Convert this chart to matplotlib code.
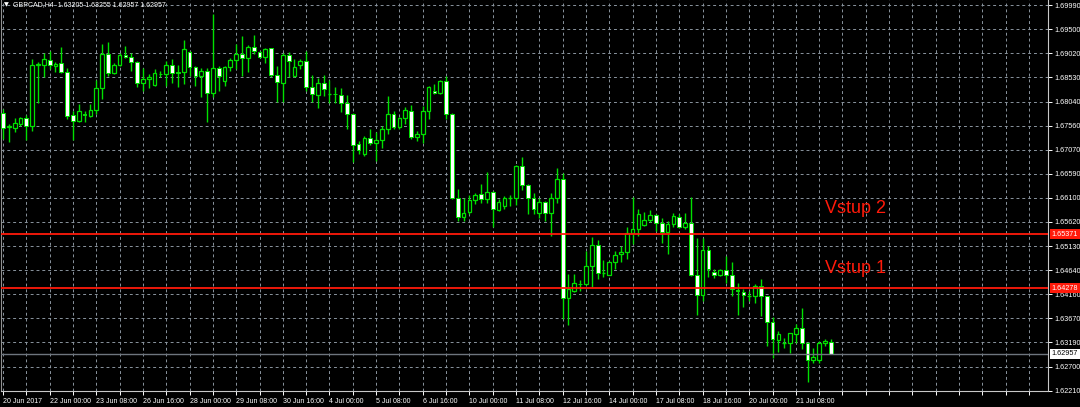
import numpy as np
import matplotlib
matplotlib.use("Agg")
import matplotlib.pyplot as plt
import matplotlib.transforms as mtransforms

plt.rcParams['font.family'] = ['Liberation Sans', 'DejaVu Sans']

# GBPCAD H4 bars (open, high, low, close)
opens = [1.6782, 1.6753, 1.6752, 1.6760, 1.6771, 1.6755, 1.6879, 1.6879, 1.6888, 1.6877,
         1.6883, 1.6863, 1.6777, 1.6765, 1.6780, 1.6776, 1.6787, 1.6832, 1.6901, 1.6861,
         1.6879, 1.6898, 1.6895, 1.6885, 1.6841, 1.6849, 1.6838, 1.6860, 1.6859, 1.6879,
         1.6863, 1.6863, 1.6905, 1.6875, 1.6856, 1.6865, 1.6822, 1.6871, 1.6846, 1.6874,
         1.6888, 1.6901, 1.6893, 1.6915, 1.6905, 1.6895, 1.6912, 1.6857, 1.6842, 1.6898,
         1.6855, 1.6878, 1.6886, 1.6834, 1.6818, 1.6842, 1.6820, 1.6820, 1.6818, 1.6801,
         1.6780, 1.6719, 1.6699, 1.6730, 1.6721, 1.6727, 1.6750, 1.6779, 1.6754, 1.6771,
         1.6786, 1.6732, 1.6739, 1.6785, 1.6825, 1.6821, 1.6845, 1.6780, 1.6610, 1.6571,
         1.6581, 1.6605, 1.6617, 1.6607, 1.6622, 1.6585, 1.6593, 1.6609, 1.6609, 1.6674,
         1.6637, 1.6609, 1.6580, 1.6601, 1.6580, 1.6610, 1.6648, 1.6409, 1.6422, 1.6437,
         1.6437, 1.6472, 1.6515, 1.6459, 1.6455, 1.6481, 1.6496, 1.6502, 1.6540, 1.6548,
         1.6556, 1.6566, 1.6576, 1.6559, 1.6542, 1.6557, 1.6572, 1.6552, 1.6559, 1.6454,
         1.6414, 1.6506, 1.6461, 1.6454, 1.6465, 1.6454, 1.6425, 1.6420, 1.6413, 1.6413,
         1.6433, 1.6413, 1.6360, 1.6324, 1.6318, 1.6318, 1.6336, 1.6347, 1.6318, 1.6283,
         1.6283, 1.6318, 1.63205]
highs = [1.6789, 1.6760, 1.6771, 1.6774, 1.6778, 1.6890, 1.6884, 1.6902, 1.6906, 1.6885,
         1.6914, 1.6873, 1.6785, 1.6800, 1.6785, 1.6799, 1.6848, 1.6921, 1.6925, 1.6883,
         1.6903, 1.6916, 1.6903, 1.6886, 1.6873, 1.6859, 1.6869, 1.6866, 1.6886, 1.6890,
         1.6879, 1.6928, 1.6906, 1.6877, 1.6873, 1.6873, 1.6980, 1.6876, 1.6876, 1.6893,
         1.6921, 1.6937, 1.6918, 1.6938, 1.6906, 1.6913, 1.6913, 1.6876, 1.6903, 1.6904,
         1.6890, 1.6890, 1.6907, 1.6858, 1.6851, 1.6858, 1.6848, 1.6833, 1.6831, 1.6817,
         1.6782, 1.6724, 1.6734, 1.6750, 1.6742, 1.6755, 1.6815, 1.6786, 1.6773, 1.6793,
         1.6797, 1.6745, 1.6796, 1.6836, 1.6840, 1.6847, 1.6855, 1.6782, 1.6628, 1.6610,
         1.6615, 1.6619, 1.6639, 1.6663, 1.6624, 1.6607, 1.6613, 1.6615, 1.6677, 1.6693,
         1.6639, 1.6619, 1.6609, 1.6603, 1.6620, 1.6671, 1.6661, 1.6456, 1.6456, 1.6444,
         1.6504, 1.6532, 1.6525, 1.6484, 1.6483, 1.6503, 1.6513, 1.6552, 1.6611, 1.6588,
         1.6582, 1.6585, 1.6577, 1.6570, 1.6564, 1.6580, 1.6577, 1.6579, 1.6611, 1.6530,
         1.6530, 1.6513, 1.6466, 1.6467, 1.6492, 1.6481, 1.6439, 1.6426, 1.6422, 1.6437,
         1.6446, 1.6413, 1.6369, 1.6342, 1.6328, 1.6338, 1.6355, 1.6389, 1.6320, 1.6307,
         1.6322, 1.6325, 1.63255]
lows = [1.6728, 1.6722, 1.6742, 1.6756, 1.6727, 1.6745, 1.6802, 1.6853, 1.6869, 1.6864,
        1.6861, 1.6770, 1.6726, 1.6763, 1.6763, 1.6773, 1.6779, 1.6809, 1.6856, 1.6859,
        1.6877, 1.6893, 1.6866, 1.6834, 1.6826, 1.6832, 1.6836, 1.6853, 1.6836, 1.6841,
        1.6834, 1.6839, 1.6856, 1.6836, 1.6814, 1.6764, 1.6814, 1.6826, 1.6836, 1.6866,
        1.6869, 1.6856, 1.6863, 1.6900, 1.6893, 1.6883, 1.6853, 1.6804, 1.6804, 1.6853,
        1.6853, 1.6870, 1.6826, 1.6804, 1.6791, 1.6816, 1.6801, 1.6801, 1.6784, 1.6750,
        1.6683, 1.6699, 1.6695, 1.6717, 1.6685, 1.6710, 1.6739, 1.6749, 1.6749, 1.6759,
        1.6729, 1.6725, 1.6720, 1.6769, 1.6820, 1.6820, 1.6769, 1.6607, 1.6563, 1.6564,
        1.6577, 1.6597, 1.6599, 1.6600, 1.6552, 1.6583, 1.6588, 1.6593, 1.6595, 1.6627,
        1.6577, 1.6577, 1.6570, 1.6564, 1.6533, 1.6600, 1.6365, 1.6353, 1.6420, 1.6422,
        1.6434, 1.6431, 1.6447, 1.6451, 1.6454, 1.6466, 1.6480, 1.6486, 1.6517, 1.6533,
        1.6553, 1.6562, 1.6543, 1.6519, 1.6496, 1.6552, 1.6550, 1.6547, 1.6453, 1.6374,
        1.6402, 1.6451, 1.6449, 1.6453, 1.6438, 1.6412, 1.6374, 1.6391, 1.6402, 1.6399,
        1.6372, 1.6312, 1.6288, 1.6299, 1.6307, 1.6298, 1.6318, 1.6305, 1.6238, 1.6278,
        1.6278, 1.6312, 1.62957]
closes = [1.6752, 1.6755, 1.6762, 1.6771, 1.6755, 1.6879, 1.6880, 1.6890, 1.6878, 1.6881,
          1.6863, 1.6775, 1.6766, 1.6785, 1.6777, 1.6787, 1.6832, 1.6901, 1.6861, 1.6879,
          1.6898, 1.6895, 1.6885, 1.6841, 1.6849, 1.6853, 1.6861, 1.6859, 1.6879, 1.6861,
          1.6862, 1.6910, 1.6875, 1.6856, 1.6865, 1.6822, 1.6873, 1.6856, 1.6874, 1.6888,
          1.6901, 1.6893, 1.6915, 1.6907, 1.6895, 1.6911, 1.6857, 1.6844, 1.6898, 1.6887,
          1.6875, 1.6886, 1.6833, 1.6819, 1.6842, 1.6830, 1.6820, 1.6819, 1.6801, 1.6779,
          1.6717, 1.6707, 1.6730, 1.6721, 1.6727, 1.6750, 1.6779, 1.6754, 1.6771, 1.6788,
          1.6732, 1.6739, 1.6785, 1.6833, 1.6821, 1.6845, 1.6779, 1.6610, 1.6571, 1.6580,
          1.6605, 1.6616, 1.6607, 1.6622, 1.6587, 1.6601, 1.6609, 1.6609, 1.6674, 1.6637,
          1.6609, 1.6588, 1.6601, 1.6580, 1.6610, 1.6648, 1.6409, 1.6427, 1.6438, 1.6436,
          1.6472, 1.6515, 1.6459, 1.6459, 1.6481, 1.6495, 1.6502, 1.6540, 1.6548, 1.6578,
          1.6566, 1.6576, 1.6559, 1.6542, 1.6557, 1.6574, 1.6552, 1.6559, 1.6454, 1.6414,
          1.6506, 1.6466, 1.6454, 1.6465, 1.6454, 1.6426, 1.6423, 1.6414, 1.6413, 1.6433,
          1.6413, 1.6360, 1.6325, 1.6335, 1.6318, 1.6337, 1.6347, 1.6318, 1.6283, 1.6290,
          1.6318, 1.6322, 1.62957]

time_labels = ['20 Jun 2017', '22 Jun 00:00', '23 Jun 08:00', '26 Jun 16:00', '28 Jun 00:00',
               '29 Jun 08:00', '30 Jun 16:00', '4 Jul 00:00', '5 Jul 08:00', '6 Jul 16:00',
               '10 Jul 00:00', '11 Jul 08:00', '12 Jul 16:00', '14 Jul 00:00', '17 Jul 08:00',
               '18 Jul 16:00', '20 Jul 00:00', '21 Jul 08:00']
price_labels = [1.69990, 1.69500, 1.69020, 1.68530, 1.68040, 1.67560, 1.67070, 1.66590,
                1.66100, 1.65620, 1.65130, 1.64640, 1.64160, 1.63670, 1.63190, 1.62700, 1.62210]
entry_levels = [1.65371, 1.64278]
entry_names = ['Vstup 2', 'Vstup 1']
bid_price = 1.62957
title = 'GBPCAD,H4  1.63205 1.63255 1.62957 1.62957'

o = np.array(opens); h = np.array(highs); l = np.array(lows); c = np.array(closes)
idx = np.arange(len(o))

GREEN = '#00e000'
RED = '#ff1a0a'
fig = plt.figure(figsize=(10.8, 4.07), dpi=100, facecolor='black')
ax = fig.add_axes([1 / 1080, 16 / 407, 1047 / 1080, 391 / 407], facecolor='black')

# grid: one line every 4 bars, a time label every 8
ax.set_xticks(np.arange(0, 180, 4))
ax.set_xticklabels([time_labels[k // 8] if k % 8 == 0 and k // 8 < len(time_labels) else ''
                    for k in range(0, 180, 4)])
ax.set_yticks(price_labels)
ax.set_yticklabels(['%.5f' % p for p in price_labels])
ax.grid(True, color='#8a949e', linestyle=(0, (3, 3)), linewidth=0.7)
ax.set_axisbelow(True)

# candles
ax.vlines(idx, l, h, color=GREEN, linewidth=1.0, zorder=2)
bull = c > o
bear = c < o
doji = c == o
body_w = 0.64
ax.bar(idx[bull], (c - o)[bull], bottom=o[bull], width=body_w,
       color='black', edgecolor=GREEN, linewidth=0.9, zorder=3)
ax.bar(idx[bear], (o - c)[bear], bottom=c[bear], width=body_w,
       color='white', edgecolor=GREEN, linewidth=0.7, zorder=3)
ax.hlines(o[doji], idx[doji] - body_w / 2, idx[doji] + body_w / 2,
          color=GREEN, linewidth=1.0, zorder=3)

# levels
trans = mtransforms.blended_transform_factory(ax.transAxes, ax.transData)
for lvl in entry_levels:
    ax.axhline(lvl, color=RED, linewidth=1.3, zorder=4)
    ax.text(1.0035, lvl, '%.5f' % lvl, transform=trans, color='white', fontsize=5.2,
            va='center', ha='left', clip_on=False, zorder=6,
            bbox=dict(facecolor=RED, edgecolor='none', pad=1.2))
ax.axhline(bid_price, color='#6e757e', linewidth=1.0, zorder=4)
ax.text(1.0035, bid_price, '%.5f' % bid_price, transform=trans, color='black', fontsize=5.2,
        va='center', ha='left', clip_on=False, zorder=6,
        bbox=dict(facecolor='white', edgecolor='none', pad=1.2))

ax.text(141, 1.6589, entry_names[0], color=RED, fontsize=13, va='center', ha='left')
ax.text(141, 1.6467, entry_names[1], color=RED, fontsize=13, va='center', ha='left')

ax.set_xlim(-0.343, 179.25)
ax.set_ylim(1.62208, 1.70091)

ax.yaxis.tick_right()
ax.tick_params(axis='y', colors='white', labelsize=5.2, length=3, width=0.7, pad=1.5)
ax.tick_params(axis='x', colors='white', labelsize=5, length=3, width=0.7, pad=2)
for lbl in ax.get_xticklabels():
    lbl.set_horizontalalignment('left')
ax.spines['top'].set_visible(False)
ax.spines['left'].set_color('#909090')
ax.spines['right'].set_color('#c8c8c8')
ax.spines['bottom'].set_color('#c8c8c8')

fig.text(4 / 1080, 1 - 5 / 407, '\u25bc', color='white', fontsize=4.5, va='center', ha='left',
         family='DejaVu Sans')
fig.text(13 / 1080, 1 - 5 / 407, title, color='white', fontsize=5, va='center', ha='left')

fig.savefig('out.png', dpi=100, facecolor='black')
